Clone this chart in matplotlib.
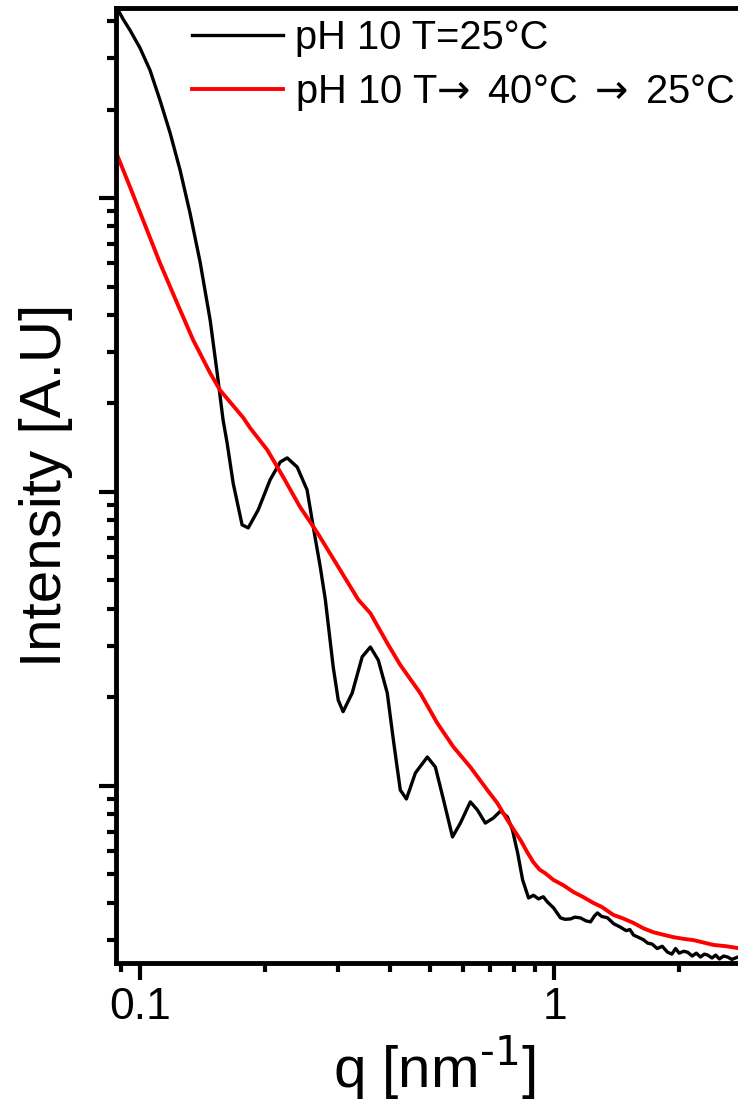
import matplotlib
matplotlib.use("Agg")
import matplotlib.pyplot as plt
from matplotlib.ticker import LogLocator, NullFormatter, FixedLocator, FixedFormatter

plt.rcParams['font.family'] = ['Liberation Sans', 'DejaVu Sans']
plt.rcParams['mathtext.fontset'] = 'dejavusans'
plt.rcParams['mathtext.default'] = 'rm'

# SAXS curves, pH 10
q_25 = [0.0875, 0.091, 0.0946, 0.1, 0.1057, 0.1117, 0.1182, 0.1249, 0.132,
        0.1396, 0.1476, 0.1535,
        0.1586, 0.1622, 0.1678, 0.1763, 0.1824, 0.1928, 0.206, 0.218, 0.2265, 0.2394,
        0.253, 0.2618, 0.2722, 0.280, 0.2925, 0.3008, 0.309, 0.325, 0.3436, 0.3596,
        0.3758, 0.395, 0.4087, 0.4246, 0.4393, 0.4617, 0.4935, 0.516, 0.540, 0.5675,
        0.593, 0.6266, 0.6517, 0.681, 0.7121, 0.741, 0.770, 0.792, 0.815, 0.838,
        0.866, 0.89, 0.915, 0.94, 0.962, 0.995, 1.034, 1.06, 1.093, 1.12,
        1.155, 1.19, 1.222, 1.25, 1.27, 1.30, 1.343, 1.39, 1.443, 1.49,
        1.52, 1.552, 1.60, 1.64, 1.679, 1.72, 1.77, 1.82, 1.875, 1.92,
        1.96, 2.0, 2.05, 2.096, 2.15, 2.2, 2.25, 2.3, 2.342, 2.4,
        2.45, 2.5, 2.56, 2.618, 2.68, 2.77, 2.85, 3.0]
I_25 = [4500, 4060, 3720, 3236, 2720, 2153, 1663, 1245, 889,
        606, 385, 254,
        176, 147, 107, 77.3, 75.5, 86.9, 110, 126.5, 130.6, 121.6,
        101.6, 76.1, 55.6, 43.0, 25.4, 19.6, 17.9, 20.7, 27.5, 29.7,
        26.8, 20.7, 14.3, 9.69, 9.03, 11.07, 12.55, 11.6, 8.96, 6.71,
        7.48, 8.83, 8.29, 7.48, 7.78, 8.22, 7.85, 7.08, 5.92, 4.79,
        4.16, 4.25, 4.13, 4.2, 4.03, 3.85, 3.56, 3.52, 3.53, 3.58,
        3.56, 3.48, 3.45, 3.62, 3.70, 3.60, 3.56, 3.40, 3.31, 3.22,
        3.25, 3.11, 3.05, 3.00, 2.92, 2.90, 2.80, 2.85, 2.72, 2.68,
        2.80, 2.70, 2.74, 2.72, 2.64, 2.70, 2.62, 2.68, 2.66, 2.60,
        2.66, 2.58, 2.64, 2.62, 2.57, 2.62, 2.58, 2.60]

q_cyc = [0.0875, 0.0946, 0.1017, 0.1117, 0.1228, 0.1343, 0.1476, 0.156, 0.1774, 0.1844,
         0.2028, 0.2215, 0.2433, 0.268, 0.304, 0.3363, 0.3596, 0.395, 0.4246, 0.4744,
         0.521, 0.570, 0.6266, 0.6886, 0.728, 0.770, 0.828, 0.86, 0.889, 0.92,
         0.95, 0.995, 1.05, 1.111, 1.17, 1.242, 1.3, 1.389, 1.46, 1.552,
         1.64, 1.734, 1.83, 1.938, 2.05, 2.166, 2.3, 2.421, 2.6, 2.77, 3.0]
I_cyc = [1432, 1089, 841, 601, 440, 329, 254, 222, 179, 165,
         139, 112.5, 88.9, 72.6, 54.3, 43.0, 38.7, 30.6, 25.8, 20.7,
         16.4, 13.6, 11.6, 9.69, 8.75, 7.66, 6.55, 5.95, 5.51, 5.2,
         5.05, 4.79, 4.6, 4.36, 4.2, 4.00, 3.88, 3.64, 3.55, 3.42,
         3.28, 3.18, 3.12, 3.06, 3.02, 2.99, 2.93, 2.88, 2.85, 2.81, 2.78]

labels = ['pH 10 T=25°C', 'pH 10 T$\u2192\\,$ 40°C $\\,\u2192\\,$ 25°C']

fig = plt.figure(figsize=(7.38, 11.06), dpi=100)
ax = fig.add_axes([0.1572, 0.1293, 0.862, 0.8635])

ax.plot(q_25, I_25, color='black', lw=2.4, label=labels[0])
ax.plot(q_cyc, I_cyc, color='#ff0000', lw=2.8, label=labels[1])

ax.set_xscale('log')
ax.set_yscale('log')
ax.set_xlim(0.0875, 3.0)
ax.set_ylim(2.5, 4430)

ax.xaxis.set_major_locator(FixedLocator([0.1, 1]))
ax.xaxis.set_major_formatter(FixedFormatter(['0.1', '1']))
ax.xaxis.set_minor_locator(LogLocator(base=10, subs=range(2, 10)))
ax.xaxis.set_minor_formatter(NullFormatter())
ax.yaxis.set_major_locator(LogLocator(base=10, subs=[1.0]))
ax.yaxis.set_minor_locator(LogLocator(base=10, subs=range(2, 10)))
ax.yaxis.set_major_formatter(NullFormatter())
ax.yaxis.set_minor_formatter(NullFormatter())

for s in ax.spines.values():
    s.set_linewidth(3.5)
ax.tick_params(which='major', direction='out', length=12, width=3, labelsize=32, pad=5)
ax.tick_params(which='minor', direction='out', length=6.5, width=3)
ax.tick_params(top=False, right=False, which='both')

ax.set_xlabel(r'q [nm$^{\text{-}1}$]', fontsize=42, labelpad=4)
ax.set_ylabel('Intensity [A.U]', fontsize=42, labelpad=14)

ax.legend(loc='upper left', bbox_to_anchor=(0.260, 0.983), bbox_transform=fig.transFigure,
          frameon=False, fontsize=28.7, handlelength=2.28, handletextpad=0.3,
          labelspacing=0.39, borderaxespad=0, borderpad=0)

fig.savefig('out.png', dpi=100)
